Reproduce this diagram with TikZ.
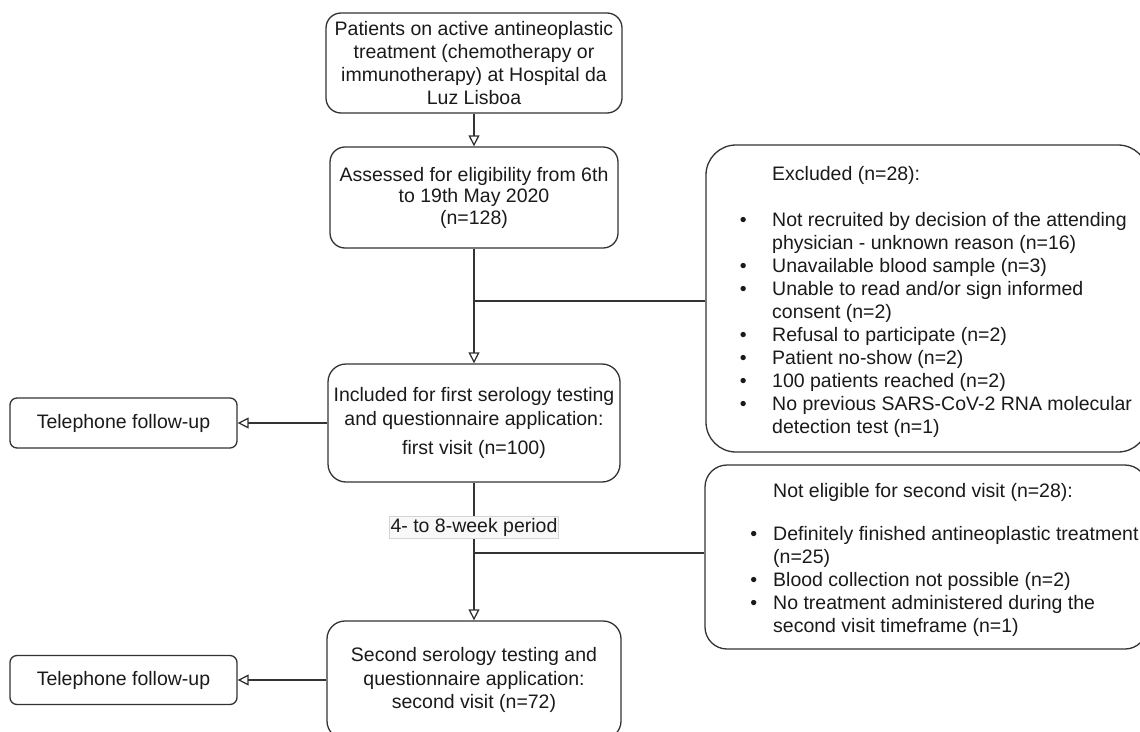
\documentclass[tikz,border=0pt]{standalone}
\usepackage{fontspec}
\setmainfont{Liberation Sans}
\usetikzlibrary{arrows.meta}
\definecolor{linec}{HTML}{333333}
\definecolor{txt}{HTML}{1A1A1A}
\definecolor{lblfill}{HTML}{F8F8F8}
\definecolor{lbldraw}{HTML}{D4D4D4}
\newcommand{\mainfs}{\fontsize{19.5}{23.3}\selectfont}
\newcommand{\blA}{\llap{\textbullet\hspace{25.5pt}}}
\newcommand{\blB}{\llap{\textbullet\hspace{16pt}}}
\begin{document}
\begin{tikzpicture}[x=1pt,y=-1pt,
  box/.style={draw=linec, line width=1.3pt, align=center, text=txt, font=\mainfs, inner sep=0pt},
  listtext/.style={anchor=base west, inner sep=0pt, text=txt, font=\fontsize{19.5}{23}\selectfont},
  arr/.style={draw=linec, line width=1.3pt, -{Triangle[open,width=11pt,length=11pt]}},
  conn/.style={draw=linec, line width=1.3pt},
  lbl/.style={fill=lblfill, draw=lbldraw, line width=0.6pt, text=txt, font=\mainfs, inner xsep=1pt, inner ysep=2pt}]
\clip (0,0) rectangle (1140,731);
\fill[white] (0,0) rectangle (1140,731);

% main column
\node[box, rounded corners=15pt, minimum width=296pt, minimum height=100pt] (b1) at (474,63)
  {Patients on active antineoplastic\\treatment (chemotherapy or\\immunotherapy) at Hospital da\\Luz Lisboa};
\node[box, rounded corners=15pt, minimum width=288pt, minimum height=101pt, font=\fontsize{19.5}{21.5}\selectfont] (b2) at (474,197.5)
  {Assessed for eligibility from 6th\\to 19th May 2020\\(n=128)};
\node[box, rounded corners=18pt, minimum width=292pt, minimum height=118pt] (b3) at (474,423)
  {Included for first serology testing\\and questionnaire application:\\[6pt]first visit (n=100)};
\node[box, rounded corners=18pt, minimum width=294pt, minimum height=118pt] (b4) at (474,680)
  {Second serology testing and\\questionnaire application:\\second visit (n=72)};

% left follow-up boxes
\node[box, rounded corners=7pt, minimum width=227pt, minimum height=50pt] (t1) at (123.5,423) {Telephone follow-up};
\node[box, rounded corners=7pt, minimum width=227pt, minimum height=49pt] (t2) at (123.5,680) {Telephone follow-up};

% right exclusion boxes
\node[draw=linec, line width=1.3pt, rounded corners=30pt, minimum width=442pt, minimum height=307pt, inner sep=0pt] (ex) at (927,298.5) {};
\node[draw=linec, line width=1.3pt, rounded corners=22pt, minimum width=442pt, minimum height=184pt, inner sep=0pt] (ne) at (926,557) {};

\node[listtext] (exT) at (772,180) {\parbox[t]{460pt}{%
Excluded (n=28):\\[23pt]
\blA Not recruited by decision of the attending\\
physician - unknown reason (n=16)\\
\blA Unavailable blood sample (n=3)\\
\blA Unable to read and/or sign informed\\
consent (n=2)\\
\blA Refusal to participate (n=2)\\
\blA Patient no-show (n=2)\\
\blA 100 patients reached (n=2)\\
\blA No previous SARS-CoV-2 RNA molecular\\
detection test (n=1)}};

\node[listtext] (neT) at (773,497) {\parbox[t]{460pt}{%
Not eligible for second visit (n=28):\\[20pt]
\blB Definitely finished antineoplastic treatment\\
(n=25)\\
\blB Blood collection not possible (n=2)\\
\blB No treatment administered during the\\
second visit timeframe (n=1)}};

% connectors
\draw[arr] (b1) -- (b2);
\draw[arr] (b2) -- (b3);
\coordinate (je) at (474,301);
\draw[conn] (je) -- (je -| ex.west);
\draw[arr] (b3) -- (b4);
\coordinate (jn) at (474,553);
\draw[conn] (jn) -- (jn -| ne.west);
\node[lbl] (per) at (474,527.5) {4- to 8-week period};
\draw[arr] (b3) -- (t1);
\draw[arr] (b4) -- (t2);
\end{tikzpicture}
\end{document}
